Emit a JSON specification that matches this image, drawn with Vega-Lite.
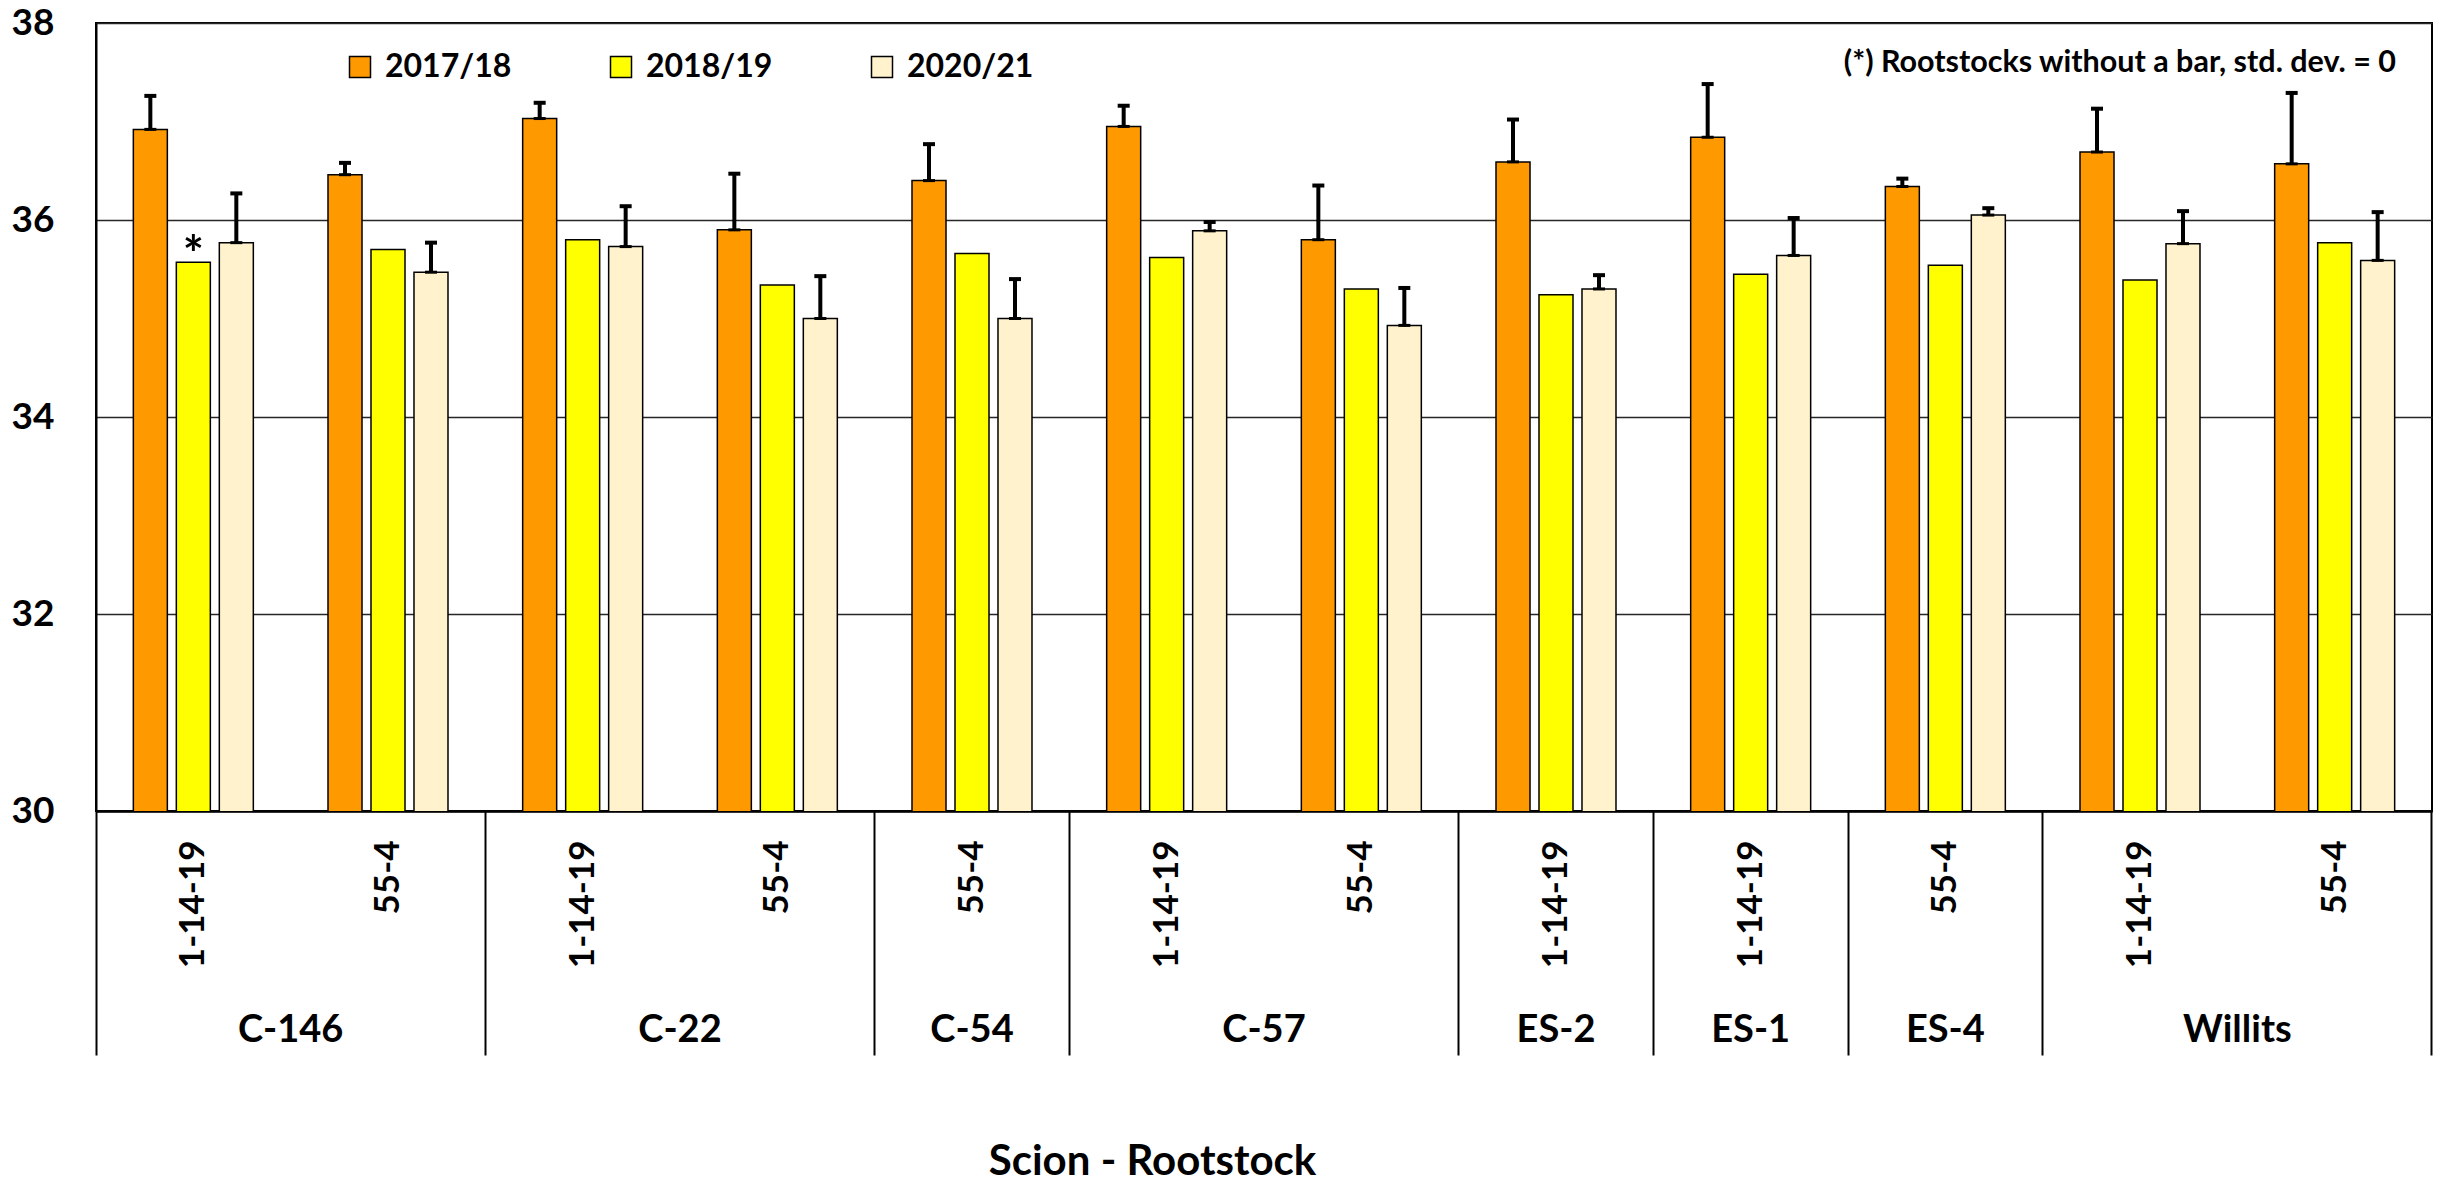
{
  "$schema": "https://vega.github.io/schema/vega-lite/v6.json",
  "width": 2336,
  "height": 788,
  "autosize": {"type": "none"},
  "padding": {"left": 96, "top": 23, "right": 16, "bottom": 371},
  "background": "white",
  "title": {"text": "(*) Rootstocks without a bar, std. dev. = 0", "anchor": "end", "frame": "group", "orient": "top", "offset": 0, "baseline": "middle", "dy": 89, "dx": -36, "font": "Lato", "fontSize": 30.5, "fontWeight": "bold", "color": "black"},
  "data": {"values": [
    {"scion": "C-146", "rootstock": "1-14-19", "key": "C-146|1-14-19", "year": "2017/18", "value": 36.92, "upper": 37.26, "note": ""},
    {"scion": "C-146", "rootstock": "1-14-19", "key": "C-146|1-14-19", "year": "2018/19", "value": 35.57, "upper": null, "note": "*"},
    {"scion": "C-146", "rootstock": "1-14-19", "key": "C-146|1-14-19", "year": "2020/21", "value": 35.77, "upper": 36.27, "note": ""},
    {"scion": "C-146", "rootstock": "55-4", "key": "C-146|55-4", "year": "2017/18", "value": 36.46, "upper": 36.58, "note": ""},
    {"scion": "C-146", "rootstock": "55-4", "key": "C-146|55-4", "year": "2018/19", "value": 35.70, "upper": null, "note": ""},
    {"scion": "C-146", "rootstock": "55-4", "key": "C-146|55-4", "year": "2020/21", "value": 35.47, "upper": 35.77, "note": ""},
    {"scion": "C-22", "rootstock": "1-14-19", "key": "C-22|1-14-19", "year": "2017/18", "value": 37.03, "upper": 37.19, "note": ""},
    {"scion": "C-22", "rootstock": "1-14-19", "key": "C-22|1-14-19", "year": "2018/19", "value": 35.80, "upper": null, "note": ""},
    {"scion": "C-22", "rootstock": "1-14-19", "key": "C-22|1-14-19", "year": "2020/21", "value": 35.73, "upper": 36.14, "note": ""},
    {"scion": "C-22", "rootstock": "55-4", "key": "C-22|55-4", "year": "2017/18", "value": 35.90, "upper": 36.47, "note": ""},
    {"scion": "C-22", "rootstock": "55-4", "key": "C-22|55-4", "year": "2018/19", "value": 35.34, "upper": null, "note": ""},
    {"scion": "C-22", "rootstock": "55-4", "key": "C-22|55-4", "year": "2020/21", "value": 35.00, "upper": 35.43, "note": ""},
    {"scion": "C-54", "rootstock": "55-4", "key": "C-54|55-4", "year": "2017/18", "value": 36.40, "upper": 36.77, "note": ""},
    {"scion": "C-54", "rootstock": "55-4", "key": "C-54|55-4", "year": "2018/19", "value": 35.66, "upper": null, "note": ""},
    {"scion": "C-54", "rootstock": "55-4", "key": "C-54|55-4", "year": "2020/21", "value": 35.00, "upper": 35.40, "note": ""},
    {"scion": "C-57", "rootstock": "1-14-19", "key": "C-57|1-14-19", "year": "2017/18", "value": 36.95, "upper": 37.16, "note": ""},
    {"scion": "C-57", "rootstock": "1-14-19", "key": "C-57|1-14-19", "year": "2018/19", "value": 35.62, "upper": null, "note": ""},
    {"scion": "C-57", "rootstock": "1-14-19", "key": "C-57|1-14-19", "year": "2020/21", "value": 35.89, "upper": 35.98, "note": ""},
    {"scion": "C-57", "rootstock": "55-4", "key": "C-57|55-4", "year": "2017/18", "value": 35.80, "upper": 36.35, "note": ""},
    {"scion": "C-57", "rootstock": "55-4", "key": "C-57|55-4", "year": "2018/19", "value": 35.30, "upper": null, "note": ""},
    {"scion": "C-57", "rootstock": "55-4", "key": "C-57|55-4", "year": "2020/21", "value": 34.93, "upper": 35.31, "note": ""},
    {"scion": "ES-2", "rootstock": "1-14-19", "key": "ES-2|1-14-19", "year": "2017/18", "value": 36.59, "upper": 37.02, "note": ""},
    {"scion": "ES-2", "rootstock": "1-14-19", "key": "ES-2|1-14-19", "year": "2018/19", "value": 35.24, "upper": null, "note": ""},
    {"scion": "ES-2", "rootstock": "1-14-19", "key": "ES-2|1-14-19", "year": "2020/21", "value": 35.30, "upper": 35.44, "note": ""},
    {"scion": "ES-1", "rootstock": "1-14-19", "key": "ES-1|1-14-19", "year": "2017/18", "value": 36.84, "upper": 37.38, "note": ""},
    {"scion": "ES-1", "rootstock": "1-14-19", "key": "ES-1|1-14-19", "year": "2018/19", "value": 35.45, "upper": null, "note": ""},
    {"scion": "ES-1", "rootstock": "1-14-19", "key": "ES-1|1-14-19", "year": "2020/21", "value": 35.64, "upper": 36.02, "note": ""},
    {"scion": "ES-4", "rootstock": "55-4", "key": "ES-4|55-4", "year": "2017/18", "value": 36.34, "upper": 36.42, "note": ""},
    {"scion": "ES-4", "rootstock": "55-4", "key": "ES-4|55-4", "year": "2018/19", "value": 35.54, "upper": null, "note": ""},
    {"scion": "ES-4", "rootstock": "55-4", "key": "ES-4|55-4", "year": "2020/21", "value": 36.05, "upper": 36.12, "note": ""},
    {"scion": "Willits", "rootstock": "1-14-19", "key": "Willits|1-14-19", "year": "2017/18", "value": 36.69, "upper": 37.13, "note": ""},
    {"scion": "Willits", "rootstock": "1-14-19", "key": "Willits|1-14-19", "year": "2018/19", "value": 35.39, "upper": null, "note": ""},
    {"scion": "Willits", "rootstock": "1-14-19", "key": "Willits|1-14-19", "year": "2020/21", "value": 35.76, "upper": 36.09, "note": ""},
    {"scion": "Willits", "rootstock": "55-4", "key": "Willits|55-4", "year": "2017/18", "value": 36.57, "upper": 37.29, "note": ""},
    {"scion": "Willits", "rootstock": "55-4", "key": "Willits|55-4", "year": "2018/19", "value": 35.77, "upper": null, "note": ""},
    {"scion": "Willits", "rootstock": "55-4", "key": "Willits|55-4", "year": "2020/21", "value": 35.59, "upper": 36.08, "note": ""}
  ]},
  "resolve": {"axis": {"x": "independent"}},
  "layer": [
    {
      "mark": {"type": "bar", "stroke": "black", "strokeWidth": 1.5, "clip": true},
      "encoding": {
        "x": {"field": "key", "type": "nominal",
          "scale": {"domain": ["C-146|1-14-19","C-146|55-4","C-22|1-14-19","C-22|55-4","C-54|55-4","C-57|1-14-19","C-57|55-4","ES-2|1-14-19","ES-1|1-14-19","ES-4|55-4","Willits|1-14-19","Willits|55-4"], "paddingInner": 0, "paddingOuter": 0},
          "axis": {"orient": "bottom", "title": null, "labelExpr": "split(datum.value,'|')[1]", "labelAngle": -90, "labelPadding": 29, "ticks": false, "domain": true, "domainColor": "black", "domainWidth": 2.5, "labelFont": "Lato", "labelFontSize": 35, "labelFontWeight": "bold", "labelColor": "black", "grid": false}},
        "xOffset": {"field": "year", "type": "nominal", "scale": {"domain": ["2017/18","2018/19","2020/21"], "paddingInner": 0.209, "paddingOuter": 0.8685}},
        "y": {"field": "value", "type": "quantitative", "scale": {"domain": [30, 38], "nice": false, "zero": false},
          "axis": {"title": null, "values": [30,32,34,36,38], "format": "d", "grid": true, "gridColor": "#262626", "gridWidth": 1.5, "ticks": false, "domain": true, "domainColor": "black", "domainWidth": 2, "labelFont": "Lato", "labelFontSize": 37, "labelFontWeight": "bold", "labelColor": "black", "labelPadding": 42}},
        "color": {"field": "year", "type": "nominal", "scale": {"domain": ["2017/18","2018/19","2020/21"], "range": ["#FF9900","#FFFF00","#FFF2CC"]},
          "legend": {"orient": "none", "legendX": 248, "legendY": 28, "direction": "horizontal", "columns": 3, "columnPadding": 93, "gridAlign": "all", "symbolType": "square", "symbolSize": 441, "symbolStrokeColor": "black", "symbolStrokeWidth": 1.5, "symbolOpacity": 1, "labelFontSize": 32, "labelFont": "Lato", "labelFontWeight": "bold", "labelColor": "black", "labelOffset": 9, "title": null, "padding": 0}}
      }
    },
    {
      "transform": [{"filter": "isValid(datum.upper)"}],
      "mark": {"type": "rule", "color": "black", "strokeWidth": 4},
      "encoding": {
        "x": {"field": "key", "type": "nominal",
          "axis": {"orient": "bottom", "title": null, "values": ["C-146|1-14-19","C-22|1-14-19","C-54|55-4","C-57|1-14-19","ES-2|1-14-19","ES-1|1-14-19","ES-4|55-4","Willits|1-14-19"], "bandPosition": 0, "labels": false, "domain": false, "ticks": true, "tickSize": 244, "tickWidth": 2, "tickColor": "black", "grid": false}},
        "xOffset": {"field": "year", "type": "nominal"},
        "y": {"field": "value", "type": "quantitative"},
        "y2": {"field": "upper"}
      }
    },
    {
      "transform": [{"filter": "isValid(datum.upper)"}],
      "mark": {"type": "tick", "orient": "horizontal", "size": 12, "thickness": 4, "color": "black", "opacity": 1},
      "encoding": {
        "x": {"field": "key", "type": "nominal",
          "axis": {"orient": "bottom", "title": null, "values": ["Willits|55-4"], "bandPosition": 1, "labels": false, "domain": false, "ticks": true, "tickSize": 244, "tickWidth": 2, "tickColor": "black", "grid": false}},
        "xOffset": {"field": "year", "type": "nominal"},
        "y": {"field": "upper", "type": "quantitative"}
      }
    },
    {
      "transform": [{"filter": "isValid(datum.upper)"}],
      "mark": {"type": "tick", "orient": "horizontal", "size": 12, "thickness": 3, "color": "black", "opacity": 1},
      "encoding": {
        "x": {"field": "key", "type": "nominal",
          "axis": {"orient": "bottom", "title": null, "values": ["C-146|55-4","C-22|55-4","C-57|55-4","Willits|55-4"], "labelOffset": -97.33, "labelExpr": "split(datum.value,'|')[0]", "labelAngle": 0, "labelAlign": "center", "labelBaseline": "middle", "labelPadding": 219, "ticks": false, "domain": false, "labelFont": "Lato", "labelFontSize": 38, "labelFontWeight": "bold", "labelColor": "black", "grid": false}},
        "xOffset": {"field": "year", "type": "nominal"},
        "y": {"field": "value", "type": "quantitative"}
      }
    },
    {
      "mark": {"type": "text", "dy": 10, "fontSize": 50, "fontWeight": "bold", "font": "Lato", "baseline": "alphabetic", "color": "black"},
      "encoding": {
        "x": {"field": "key", "type": "nominal",
          "axis": {"orient": "bottom", "title": "Scion - Rootstock", "titleX": 1056, "titleY": 350, "titleAlign": "center", "titleBaseline": "middle", "titleFont": "Lato", "titleFontSize": 42, "titleFontWeight": "bold", "titleColor": "black", "values": ["C-54|55-4","ES-2|1-14-19","ES-1|1-14-19","ES-4|55-4"], "labelExpr": "split(datum.value,'|')[0]", "labelAngle": 0, "labelAlign": "center", "labelBaseline": "middle", "labelPadding": 219, "ticks": false, "domain": false, "labelFont": "Lato", "labelFontSize": 38, "labelFontWeight": "bold", "labelColor": "black", "grid": false}},
        "xOffset": {"field": "year", "type": "nominal"},
        "y": {"field": "value", "type": "quantitative"},
        "text": {"field": "note"}
      }
    }
  ],
  "config": {
    "view": {"stroke": "black", "strokeWidth": 2},
    "font": "Lato"
  }
}
